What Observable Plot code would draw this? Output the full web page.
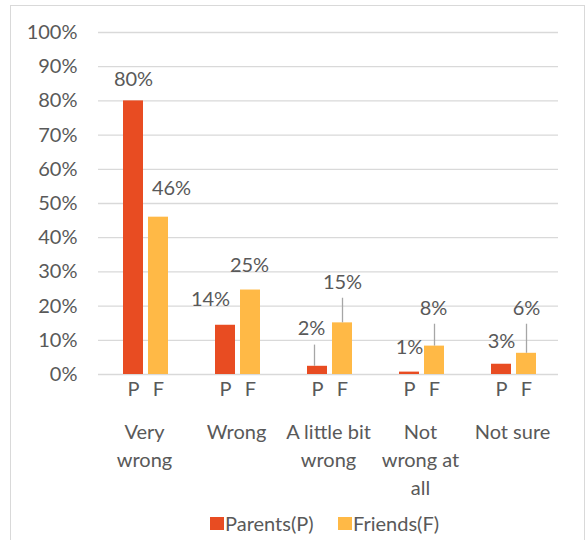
<!DOCTYPE html>
<html>
<head>
<meta charset="utf-8">
<script src="https://cdn.jsdelivr.net/npm/d3@7"></script>
<script src="https://cdn.jsdelivr.net/npm/@observablehq/plot@0.6"></script>
<style>
  body { margin: 0; background: #fff; }
  #wrap { position: relative; width: 586px; height: 540px; overflow: hidden; font-family: Lato, sans-serif; color: #595959; background: #fff; }
  #chart { position: absolute; left: 0; top: 0; }
  #frame { position: absolute; left: 10px; top: 5px; width: 575px; height: 600px; border: 1.5px solid #D9D9D9; box-sizing: border-box; pointer-events: none; }
  .leg { position: absolute; top: 513px; display: flex; align-items: center; font-size: 20px; line-height: 1; white-space: nowrap; }
  .sw { width: 14px; height: 13px; margin-right: 1px; }
</style>
</head>
<body>
<div id="wrap"><div id="chart"></div><div id="legend"></div><div id="frame"></div></div>
<script>
// ---- data ----
const categories = ["Very wrong", "Wrong", "A little bit wrong", "Not wrong at all", "Not sure"];
const categoryLabels = ["Very\nwrong", "Wrong", "A little bit\nwrong", "Not\nwrong at\nall", "Not sure"];
const seriesKeys = ["P", "F"];
const seriesNames = ["Parents(P)", "Friends(F)"];
const seriesColors = ["#E84C22", "#FFB946"];
const parents = [80, 14.4, 2.4, 0.7, 3.0];
const friends = [46, 24.7, 15.1, 8.3, 6.2];
const yTicks = [0, 10, 20, 30, 40, 50, 60, 70, 80, 90, 100];
// manually placed data labels (value units for height, px for horizontal nudge)
const labelYP = [86.3, 22.0, 13.5, 8.0, 9.7];
const labelYF = [54.5, 31.7, 27.0, 19.4, 19.4];
const labelDxP = [0, -15, -6, 0, 0];
const labelDxF = [13, -1, 0, -1, 0];
const leaderTopP = [null, null, 8.6, null, null];
const leaderTopF = [null, null, 22.3, 14.7, 14.7];
const leaderDxP = [0, 0, -3, 0, 0];
const leaderDxF = [0, 0, 0, 0, 0];

// ---- build rows ----
const rows = [];
categories.forEach((c, i) => {
  rows.push({category: c, series: "P", value: parents[i], labelY: labelYP[i], dx: labelDxP[i], leaderTop: leaderTopP[i], leaderDx: leaderDxP[i]});
  rows.push({category: c, series: "F", value: friends[i], labelY: labelYF[i], dx: labelDxF[i], leaderTop: leaderTopF[i], leaderDx: leaderDxF[i]});
});

const labelMarks = rows.map(d => Plot.text([d], {
  fx: "category", x: "series", y: "labelY",
  text: r => Math.round(r.value) + "%",
  dx: d.dx, fill: "#595959"
}));
const leaderMarks = rows.filter(d => d.leaderTop != null).map(d => Plot.ruleX([d], {
  fx: "category", x: "series", y1: "value", y2: "leaderTop",
  dx: d.leaderDx, stroke: "#A6A6A6", strokeWidth: 1.3
}));

const plot = Plot.plot({
  width: 586,
  height: 505,
  marginLeft: 97,
  marginRight: 28,
  marginTop: 32,
  marginBottom: 131,
  style: {fontFamily: "Lato, sans-serif", fontSize: "20px", color: "#595959", background: "none"},
  fx: {domain: categories, padding: 0, label: null},
  x: {domain: seriesKeys, paddingInner: 0.19, paddingOuter: 0.87, align: 0.53, label: null},
  y: {domain: [0, 100], label: null},
  color: {domain: seriesKeys, range: seriesColors},
  marks: [
    Plot.gridY(yTicks, {stroke: "#D9D9D9", strokeOpacity: 1, strokeWidth: 1.3}),
    Plot.axisY(yTicks, {tickSize: 0, tickPadding: 21, tickFormat: d => d + "%", label: null}),
    Plot.axisX({tickSize: 0, tickPadding: 7, label: null}),
    Plot.axisFx({anchor: "bottom", tickSize: 0, tickPadding: 45, label: null, lineHeight: 1.4,
      tickFormat: c => categoryLabels[categories.indexOf(c)]}),
    Plot.barY(rows, {fx: "category", x: "series", y: "value", fill: "series"}),
    ...leaderMarks,
    ...labelMarks
  ]
});
document.getElementById("chart").appendChild(plot);

// ---- legend ----
const legend = document.getElementById("legend");
const legendLeft = [210, 338];
seriesNames.forEach((name, i) => {
  const item = document.createElement("div");
  item.className = "leg";
  item.style.left = legendLeft[i] + "px";
  const sw = document.createElement("span");
  sw.className = "sw";
  sw.style.background = seriesColors[i];
  const tx = document.createElement("span");
  tx.textContent = name;
  item.appendChild(sw);
  item.appendChild(tx);
  legend.appendChild(item);
});
</script>
</body>
</html>
